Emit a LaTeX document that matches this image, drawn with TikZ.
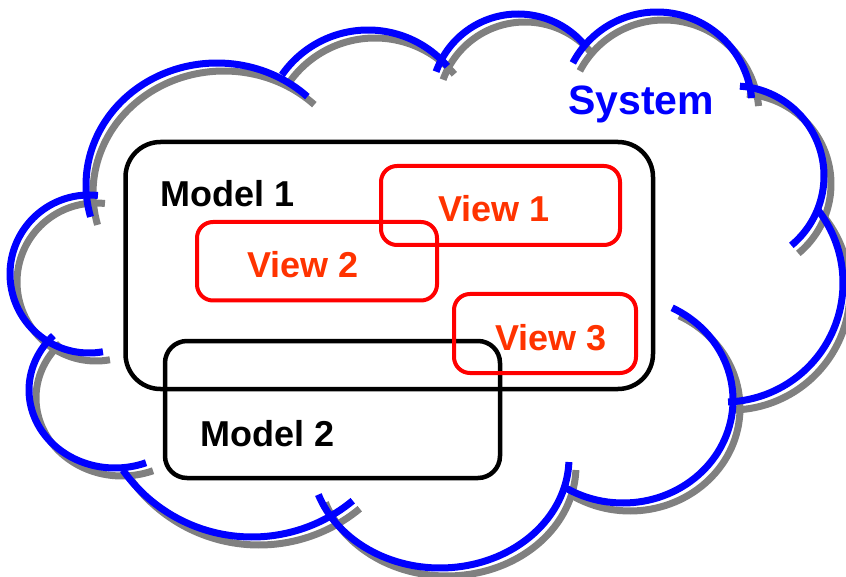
\documentclass[tikz,border=0pt]{standalone}
\usepackage{fontspec}
\setmainfont{Liberation Sans}
\definecolor{cloudblue}{RGB}{0,0,255}
\definecolor{shadowgray}{RGB}{128,128,128}
\definecolor{boxred}{RGB}{255,0,0}
\definecolor{viewtext}{RGB}{255,51,0}
% #1 style, #2 cx, #3 cy, #4 rx, #5 ry, #6 #7 start point, #8 #9 end point (clockwise on screen)
\newcommand\cloudarc[9]{%
  \pgfmathsetmacro\caS{atan2((#7-#3)/#5,(#6-#2)/#4)}%
  \pgfmathsetmacro\caE{atan2((#9-#3)/#5,(#8-#2)/#4)}%
  \pgfmathsetmacro\caF{\caS+mod(\caE-\caS+720,360)}%
  \draw[#1] plot[domain=\caS:\caF, samples=70] ({#2+#4*cos(\x)},{#3+#5*sin(\x)});%
}
\newcommand\cloudpaths[1]{%
  \cloudarc{#1}{217}{185}{131}{122}{90}{217}{307}{97}
  \cloudarc{#1}{368}{135}{105}{105}{282}{75}{450}{64}
  \cloudarc{#1}{518}{101}{87}{87}{437}{72}{588}{45}
  \cloudarc{#1}{657}{107}{95}{95}{573}{63}{752}{98}
  \cloudarc{#1}{734}{176}{90}{90}{740}{85}{791}{245}
  \cloudarc{#1}{724}{283}{119}{119}{818}{210}{728}{400}
  \cloudarc{#1}{623}{400}{110}{103}{671}{310}{563}{489}
  \cloudarc{#1}{440}{458}{129}{110}{568}{462}{317}{495}
  \cloudarc{#1}{252}{379}{158}{158}{353}{501}{123}{470}
  \cloudarc{#1}{115}{390}{86}{78}{147}{465}{55}{337}
  \cloudarc{#1}{89}{274}{79}{79}{103}{352}{98}{195}
}
\tikzset{
  cloudline/.style={draw=cloudblue, line width=7pt},
  cloudshadow/.style={draw=shadowgray, line width=7pt, shift={(7,8)}},
  modelbox/.style={draw=black, line width=4.5pt, inner sep=0pt, rectangle},
  viewbox/.style={draw=boxred, line width=4pt, inner sep=0pt, rectangle, rounded corners=16pt},
  label/.style={inner sep=0pt, anchor=base west, font=\fontsize{36}{40}\selectfont\bfseries},
}
\begin{document}
\begin{tikzpicture}[x=1pt, y=-1pt]
\useasboundingbox (0,0) rectangle (846,577);
\cloudpaths{cloudshadow}
\cloudpaths{cloudline}
\node[modelbox, rounded corners=35pt, minimum width=527.5pt, minimum height=247pt] (m1) at (389.25,265.5) {};
\node[modelbox, rounded corners=22pt, minimum width=335pt, minimum height=137pt] (m2) at (332.5,409.5) {};
\node[viewbox, minimum width=239pt, minimum height=79pt] (v1) at (500.5,205.5) {};
\node[viewbox, minimum width=240pt, minimum height=78.5pt] (v2) at (317,261.25) {};
\node[viewbox, minimum width=182pt, minimum height=79pt] (v3) at (545,333.5) {};
\node[label] (m1t) at (160,207) {Model 1};
\node[label] (m2t) at (200,446) {Model 2};
\node[label, text=viewtext] (v1t) at (438,222) {View 1};
\node[label, text=viewtext] (v2t) at (247,278) {View 2};
\node[label, text=viewtext] (v3t) at (495,350) {View 3};
\node[label, text=cloudblue, font=\fontsize{41}{45}\selectfont\bfseries] (sys) at (568,115) {System};
\end{tikzpicture}
\end{document}
